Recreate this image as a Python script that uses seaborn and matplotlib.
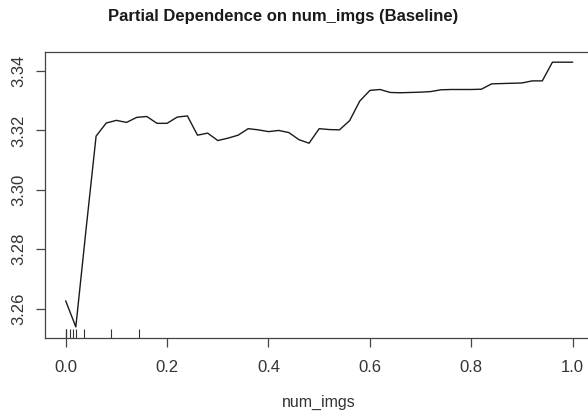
import numpy as np
import pandas as pd
import matplotlib
matplotlib.use("Agg")
import matplotlib.pyplot as plt
import seaborn as sns

# Partial dependence grid for num_imgs (51 evenly spaced points on [0, 1])
num_imgs = np.round(np.linspace(0.0, 1.0, 51), 2)
pred = [
    3.2626, 3.2538, 3.2864, 3.3181, 3.3225, 3.3234, 3.3227, 3.3244, 3.3247, 3.3224,
    3.3224, 3.3245, 3.3249, 3.3184, 3.3191, 3.3166, 3.3174, 3.3184, 3.3206, 3.3202,
    3.3196, 3.3200, 3.3193, 3.3169, 3.3157, 3.3206, 3.3203, 3.3202, 3.3233, 3.3299,
    3.3335, 3.3338, 3.3328, 3.3327, 3.3328, 3.3329, 3.3331, 3.3337, 3.3338, 3.3338,
    3.3338, 3.3339, 3.3357, 3.3358, 3.3359, 3.3360, 3.3367, 3.3367, 3.3430, 3.3430,
    3.3430,
]
# Deciles of the observed num_imgs values (rug marks)
rug_vals = [0.0, 0.0, 0.0, 0.0085, 0.0138, 0.0203, 0.0367, 0.0893, 0.144]

x_ticks = [0.0, 0.2, 0.4, 0.6, 0.8, 1.0]
y_ticks = [3.26, 3.28, 3.30, 3.32, 3.34]

df = pd.DataFrame({"num_imgs": num_imgs, "pred": pred})

sns.set_style("ticks")
plt.rcParams["font.family"] = ["Liberation Sans", "DejaVu Sans"]

fig = plt.figure(figsize=(5.88, 4.16), dpi=100)
ax = fig.add_axes([45.4 / 588, 78.5 / 416, (593 - 45.4) / 588, (364.4 - 78.5) / 416])

sns.lineplot(data=df, x="num_imgs", y="pred", ax=ax, color="#1a1a1a",
             linewidth=1.0, estimator=None, sort=False)
sns.rugplot(x=rug_vals, ax=ax, height=0.03, color="#333333", linewidth=0.8,
            expand_margins=False)

# R-style 4% padding around the data range
xr = num_imgs.max() - num_imgs.min()
ax.set_xlim(num_imgs.min() - 0.04 * xr, num_imgs.max() + 0.04 * xr)
yr = max(pred) - min(pred)
ax.set_ylim(min(pred) - 0.04 * yr, max(pred) + 0.04 * yr)

ax.set_xticks(x_ticks)
ax.set_xticklabels([f"{v:.1f}" for v in x_ticks], fontsize=12, color="#333333")
ax.set_yticks(y_ticks)
ax.set_yticklabels([f"{v:.2f}" for v in y_ticks], fontsize=12, color="#333333",
                   rotation=90, va="center")
ax.tick_params(axis="both", direction="out", length=6.5, width=0.9,
               color="#444444")
ax.tick_params(axis="x", pad=10)
ax.tick_params(axis="y", pad=7)

for s in ax.spines.values():
    s.set_visible(True)
    s.set_color("#444444")
    s.set_linewidth(0.9)

ax.set_xlabel("num_imgs", fontsize=11.5, color="#333333", labelpad=14)
ax.set_ylabel("")

fig.text(283 / 588, 1 - 16 / 416, "Partial Dependence on num_imgs (Baseline)",
         ha="center", va="center", fontsize=12, fontweight="bold", color="#1a1a1a")

fig.savefig("out.png", dpi=100)
